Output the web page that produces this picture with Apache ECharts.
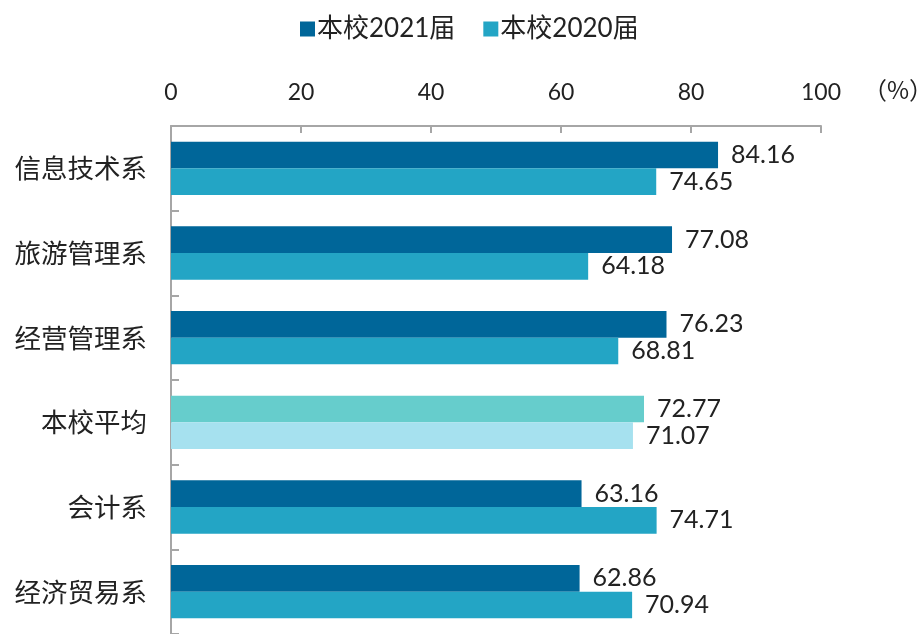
<!DOCTYPE html>
<html><head><meta charset="utf-8">
<script src="https://cdn.jsdelivr.net/npm/echarts@6/dist/echarts.min.js"></script>
<style>html,body{margin:0;padding:0;background:#fff}#c{width:921px;height:634px}</style>
</head><body><div id="c"></div>
<script>
const categories = ['信息技术系','旅游管理系','经营管理系','本校平均','会计系','经济贸易系'];
const values2021 = [84.16, 77.08, 76.23, 72.77, 63.16, 62.86];
const values2020 = [74.65, 64.18, 68.81, 71.07, 74.71, 70.94];
const xTicks = [0, 20, 40, 60, 80, 100];
const seriesNames = ['本校2021届','本校2020届'];
const unitLabel = '（%）';

const c2021 = '#006699', c2020 = '#23A5C5';
const avgC2021 = '#66CDCC', avgC2020 = '#A6E1EF';
const avgIdx = categories.indexOf('本校平均');
const numFont = "Lato, 'Noto Sans CJK SC'";
const cjkFont = "'Noto Sans CJK SC'";

function build(vals, avgColor) {
  return vals.map((v, i) => i === avgIdx ? {value: v, itemStyle: {color: avgColor}} : v);
}

const chart = echarts.init(document.getElementById('c'));
chart.setOption({
  animation: false,
  backgroundColor: '#fff',
  legend: {
    top: 11, left: 295,
    itemWidth: 15, itemHeight: 15, itemGap: 28,
    icon: 'rect',
    textStyle: {fontFamily: numFont, fontSize: 26, color: '#222', padding: [0, 0, 0, -3]},
    data: seriesNames
  },
  title: {
    text: unitLabel, left: 858, top: 73,
    textStyle: {fontFamily: cjkFont, fontSize: 24, fontWeight: 'normal', color: '#222'}
  },
  grid: {left: 171, right: 100, top: 126, bottom: -3, containLabel: false},
  xAxis: {
    type: 'value', position: 'top', min: 0, max: 100, interval: 20,
    splitLine: {show: false},
    axisLine: {show: true, lineStyle: {color: '#A6A6A6', width: 2}},
    axisTick: {show: true, inside: true, length: 7, lineStyle: {color: '#A6A6A6', width: 2}},
    axisLabel: {
      margin: 22, fontFamily: numFont, fontSize: 23, color: '#222',
      formatter: v => xTicks.includes(v) ? String(v) : ''
    }
  },
  yAxis: {
    type: 'category', inverse: true, data: categories,
    axisLine: {show: true, lineStyle: {color: '#A6A6A6', width: 2}},
    axisTick: {show: true, inside: true, length: 8, alignWithLabel: false, lineStyle: {color: '#A6A6A6', width: 2}},
    axisLabel: {margin: 24, fontFamily: cjkFont, fontSize: 26.5, color: '#222'}
  },
  series: [
    {
      name: seriesNames[0], type: 'bar', data: build(values2021, avgC2021),
      itemStyle: {color: c2021}, barGap: '0%', barCategoryGap: '37%',
      label: {show: true, position: 'right', distance: 13, fontFamily: numFont, fontSize: 25, color: '#222',
        formatter: p => p.value.toFixed(2)}
    },
    {
      name: seriesNames[1], type: 'bar', data: build(values2020, avgC2020),
      itemStyle: {color: c2020}, barGap: '0%', barCategoryGap: '37%',
      label: {show: true, position: 'right', distance: 13, fontFamily: numFont, fontSize: 25, color: '#222',
        formatter: p => p.value.toFixed(2)}
    }
  ]
});
</script>
</body></html>
